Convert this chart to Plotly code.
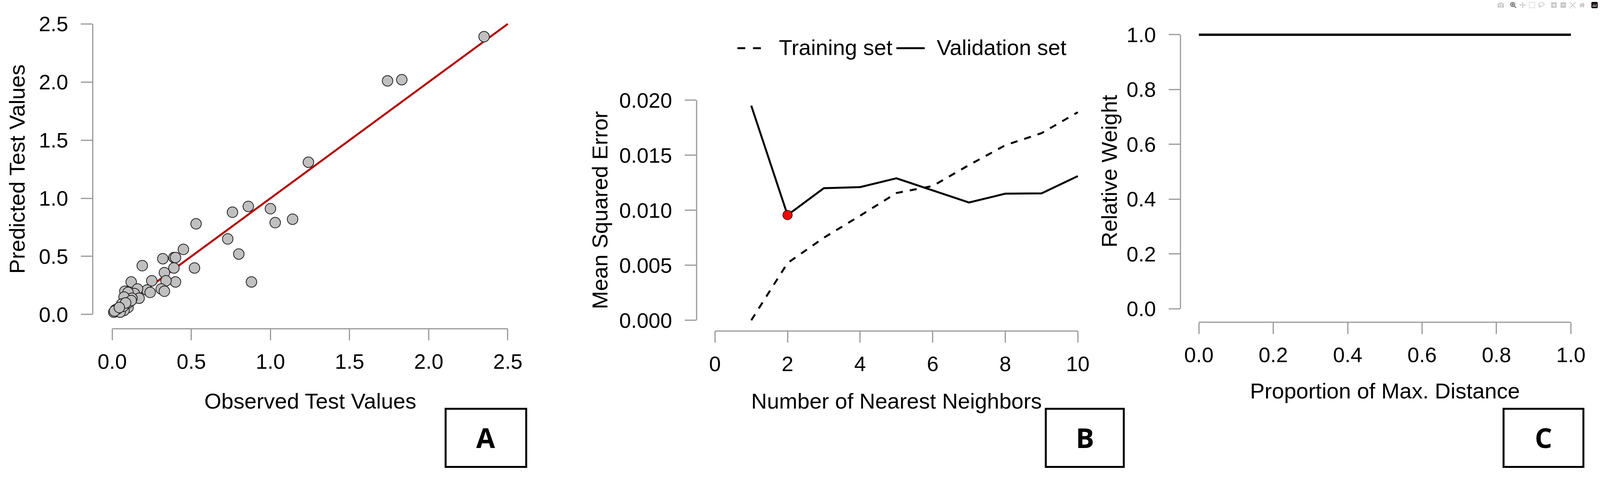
import plotly.graph_objects as go

W, H = 4329, 1230

# ---- data ----
obs = [2.35, 1.74, 1.83, 1.24, 0.86, 0.76, 1.00, 1.03, 1.14, 0.53, 0.73, 0.80, 0.88,
       0.45, 0.52, 0.32, 0.39, 0.40, 0.39, 0.33, 0.40, 0.34, 0.19, 0.25, 0.31, 0.33,
       0.22, 0.24, 0.12, 0.16, 0.14, 0.08, 0.10, 0.17, 0.125, 0.075, 0.09, 0.065,
       0.04, 0.02, 0.01, 0.03, 0.10, 0.075, 0.05, 0.10, 0.12, 0.06, 0.02, 0.035,
       0.015, 0.07, 0.085, 0.045]
pred = [2.39, 2.01, 2.02, 1.31, 0.93, 0.88, 0.91, 0.79, 0.82, 0.78, 0.65, 0.52, 0.28,
        0.56, 0.40, 0.48, 0.49, 0.49, 0.40, 0.36, 0.28, 0.29, 0.42, 0.29, 0.22, 0.20,
        0.21, 0.19, 0.28, 0.22, 0.18, 0.20, 0.19, 0.14, 0.14, 0.15, 0.08, 0.06,
        0.045, 0.025, 0.02, 0.03, 0.06, 0.035, 0.02, 0.10, 0.12, 0.09, 0.04, 0.05,
        0.03, 0.07, 0.10, 0.06]
fit_x = [0.0, 2.5]
fit_y = [0.0, 2.5]

k = [1, 2, 3, 4, 5, 6, 7, 8, 9, 10]
mse_train = [0.0, 0.0052, 0.0075, 0.0095, 0.01156, 0.0122, 0.0141, 0.0159, 0.0170, 0.0189]
mse_valid = [0.0195, 0.00956, 0.0120, 0.0121, 0.0129, 0.0118, 0.0107, 0.0115, 0.01153, 0.0131]
best_k = [2]
best_mse = [0.00956]

dist = [0.0, 1.0]
weight = [1.0, 1.0]

ticksA = [0.0, 0.5, 1.0, 1.5, 2.0, 2.5]
ticksB_x = [0, 2, 4, 6, 8, 10]
ticksB_y = [0.000, 0.005, 0.010, 0.015, 0.020]
ticksC = [0.0, 0.2, 0.4, 0.6, 0.8, 1.0]

FONT = "Liberation Sans"
TICKC = "#9a9a9a"
TS = 54

def px(x):
    return x / W

def py(y):
    return 1 - y / H

fig = go.Figure()
fig.add_trace(go.Scatter(x=fit_x, y=fit_y, mode="lines", line=dict(color="#b40000", width=5),
                         xaxis="x", yaxis="y", showlegend=False))
fig.add_trace(go.Scatter(x=obs, y=pred, mode="markers",
                         marker=dict(size=27, color="#c0c0c0", line=dict(color="#222", width=2)),
                         xaxis="x", yaxis="y", showlegend=False))
fig.add_trace(go.Scatter(x=k, y=mse_train, mode="lines", line=dict(color="black", width=5, dash="18px,18px"),
                         xaxis="x2", yaxis="y2", showlegend=False))
fig.add_trace(go.Scatter(x=k, y=mse_valid, mode="lines", line=dict(color="black", width=5),
                         xaxis="x2", yaxis="y2", showlegend=False))
fig.add_trace(go.Scatter(x=best_k, y=best_mse, mode="markers",
                         marker=dict(size=24, color="red", line=dict(color="black", width=1.5)),
                         xaxis="x2", yaxis="y2", showlegend=False))
fig.add_trace(go.Scatter(x=dist, y=weight, mode="lines", line=dict(color="black", width=6),
                         xaxis="x3", yaxis="y3", showlegend=False))

def ax(domain_px, rng, ticks, fmt, is_x, anchor):
    d = [px(domain_px[0]), px(domain_px[1])] if is_x else [py(domain_px[0]), py(domain_px[1])]
    return dict(domain=d, range=rng, tickvals=ticks, ticktext=[fmt.format(t) for t in ticks],
                ticks="outside", ticklen=29, tickwidth=3, tickcolor=TICKC, showline=False,
                showgrid=False, zeroline=False, anchor=anchor, ticklabelstandoff=22 if not is_x else 8,
                tickfont=dict(family=FONT, size=TS, color="black"))

layout = dict(
    autosize=True, margin=dict(l=0, r=0, t=0, b=0),
    paper_bgcolor="white", plot_bgcolor="white", showlegend=False,
    xaxis=ax((252, 1420), [-0.123, 2.593], ticksA, "{:.1f}", True, "y"),
    yaxis=ax((839, 30), [-0.1225, 2.556], ticksA, "{:.1f}", False, "x"),
    xaxis2=ax((1893, 2960), [-0.507, 10.314], ticksB_x, "{:d}", True, "y2"),
    yaxis2=ax((845, 230), [-0.000979, 0.020524], ticksB_y, "{:.3f}", False, "x2"),
    xaxis3=ax((3208, 4290), [-0.0495, 1.0208], ticksC, "{:.1f}", True, "y3"),
    yaxis3=ax((822, 60), [-0.0492, 1.021], ticksC, "{:.1f}", False, "x3"),
)
fig.update_layout(**layout)

def axis_lines(xn, yn, xmin, xmax, ymin, ymax):
    fig.add_shape(type="line", xref=xn, yref=yn + " domain", x0=xmin, x1=xmax, y0=0, y1=0,
                  line=dict(color=TICKC, width=3))
    fig.add_shape(type="line", xref=xn + " domain", yref=yn, x0=0, x1=0, y0=ymin, y1=ymax,
                  line=dict(color=TICKC, width=3))

axis_lines("x", "y", 0, 2.5, 0, 2.5)
axis_lines("x2", "y2", 0, 10, 0, 0.02)
axis_lines("x3", "y3", 0, 1, 0, 1)

def text(x, y, s, size=56, angle=0, family=FONT, xanchor="center"):
    fig.add_annotation(x=px(x), y=py(y), xref="paper", yref="paper", text=s, showarrow=False,
                       textangle=angle, xanchor=xanchor, yanchor="middle",
                       font=dict(family=family, size=size, color="black"))

text(46, 424, "Predicted Test Values", angle=-90)
text(843, 1027, "Observed Test Values")
text(1630, 531, "Mean Squared Error", angle=-90)
text(2436, 1027, "Number of Nearest Neighbors")
text(3014, 429, "Relative Weight", angle=-90)
text(3764, 1000, "Proportion of Max. Distance")

fig.add_shape(type="line", xref="paper", yref="paper", x0=px(2004), x1=px(2084), y0=py(110), y1=py(110),
              line=dict(color="black", width=5, dash="20px,20px"))
text(2115, 108, "Training set", xanchor="left")
fig.add_shape(type="line", xref="paper", yref="paper", x0=px(2436), x1=px(2513), y0=py(110), y1=py(110),
              line=dict(color="black", width=5))
text(2543, 108, "Validation set", xanchor="left")

for (x0, x1, letter) in [(1211, 1430, "A"), (2842, 3054, "B"), (4086, 4303, "C")]:
    fig.add_shape(type="rect", xref="paper", yref="paper", x0=px(x0), x1=px(x1), y0=py(1198), y1=py(1047),
                  line=dict(color="black", width=5), fillcolor="rgba(0,0,0,0)")
    text((x0 + x1) / 2, 1122, "<b>" + letter + "</b>", size=70, family="Open Sans")

fig.write_html("out.html", default_width="100%", default_height="100%", config={"responsive": True})

with open("out.html", encoding="utf-8") as f:
    html = f.read()
html = html.replace("<head>", "<head><style>html,body{margin:0;padding:0;width:100%;height:100%;overflow:hidden}</style>", 1)
with open("out.html", "w", encoding="utf-8") as f:
    f.write(html)
